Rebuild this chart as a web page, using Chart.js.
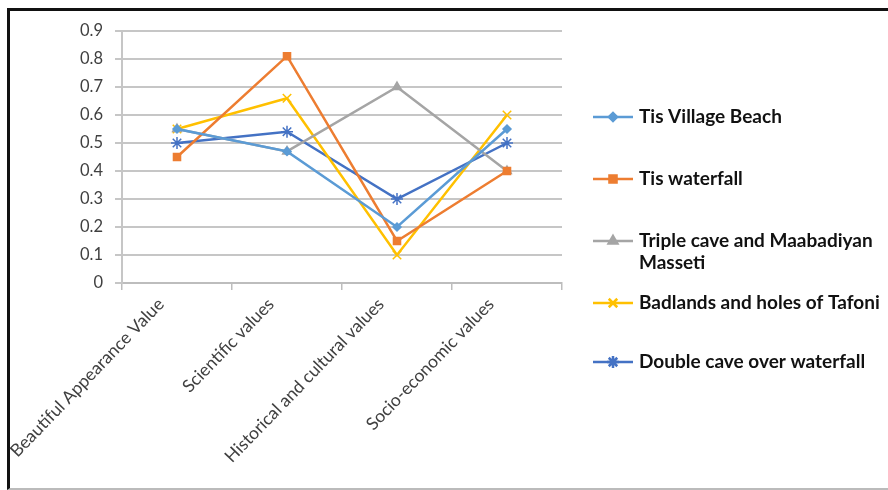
<!DOCTYPE html>
<html>
<head>
<meta charset="utf-8">
<script src="https://cdn.jsdelivr.net/npm/chart.js@4.4.1/dist/chart.umd.min.js"></script>
<style>
    html, body { margin: 0; padding: 0; background: #fff; }
    #wrap { position: relative; width: 888px; height: 490px; overflow: hidden; }
    #frame {
        position: absolute; left: 7px; top: 8px; width: 900px; height: 477px;
        border-left: 3px solid #111; border-top: 3px solid #111; border-bottom: 2px solid #bbb;
    }
    #chart { position: absolute; left: 0; top: 0; }
</style>
</head>
<body>
<div id="wrap">
    <div id="frame"></div>
    <canvas id="chart" width="888" height="490"></canvas>
</div>
<script>
const categories = ['Beautiful Appearance Value', 'Scientific values', 'Historical and cultural values', 'Socio-economic values'];
const seriesNames = ['Tis Village Beach', 'Tis waterfall', ['Triple cave and Maabadiyan', 'Masseti'], 'Badlands and holes of Tafoni', 'Double cave over waterfall'];
const tisVillageBeach = [0.55, 0.47, 0.2, 0.55];
const tisWaterfall = [0.45, 0.81, 0.15, 0.4];
const tripleCave = [0.55, 0.47, 0.7, 0.4];
const badlands = [0.55, 0.66, 0.1, 0.6];
const doubleCave = [0.5, 0.54, 0.3, 0.5];
const yTicks = [0, 0.1, 0.2, 0.3, 0.4, 0.5, 0.6, 0.7, 0.8, 0.9];

const colors = ['#5B9BD5', '#ED7D31', '#A5A5A5', '#FFC000', '#4472C4'];
const markers = ['rectRot', 'rect', 'triangle', 'crossRot', 'star'];
const radii = [4, 5, 5, 6, 6];
const values = [tisVillageBeach, tisWaterfall, tripleCave, badlands, doubleCave];

const FONT = 'Lato, "Open Sans", sans-serif';

// legend drawn on the canvas, to the right of the plot
const sideLegend = {
    id: 'sideLegend',
    afterDraw(chart) {
        const ctx = chart.ctx;
        const rows = [117, 179, 241, 303, 362];
        ctx.save();
        chart.data.datasets.forEach((ds, i) => {
            const y = rows[i];
            ctx.strokeStyle = ds.borderColor;
            ctx.fillStyle = ds.borderColor;
            ctx.lineWidth = 2.5;
            ctx.beginPath();
            ctx.moveTo(593, y);
            ctx.lineTo(633, y);
            ctx.stroke();
            Chart.helpers.drawPoint(ctx, {
                pointStyle: ds.pointStyle, radius: ds.pointRadius, borderWidth: 1.5, rotation: 0
            }, 613, y);
            ctx.fillStyle = '#111';
            ctx.font = 'bold 19px ' + FONT;
            ctx.textBaseline = 'middle';
            const lines = Array.isArray(ds.label) ? ds.label : [ds.label];
            lines.forEach((t, k) => ctx.fillText(t, 639, y + k * 22));
        });
        ctx.restore();
    },
};

const chart = new Chart(document.getElementById('chart'), {
    type: 'line',
    data: {
        labels: categories,
        datasets: values.map((v, i) => ({
            label: seriesNames[i],
            data: v,
            borderColor: colors[i],
            backgroundColor: colors[i],
            pointStyle: markers[i],
            pointRadius: radii[i],
            pointBorderWidth: 1.5,
            pointBackgroundColor: colors[i],
            pointBorderColor: colors[i],
            borderWidth: 2.5,
            tension: 0,
        })),
    },
    options: {
        responsive: false,
        animation: false,
        events: [],
        layout: { padding: { left: 0, top: 31, right: 326, bottom: 0 } },
        plugins: {
            legend: { display: false },
            tooltip: { enabled: false },
        },
        scales: {
            x: {
                offset: true,
                grid: {
                    offset: true,
                    drawOnChartArea: false,
                    drawTicks: true,
                    tickLength: 7,
                    color: '#bdbdbd',
                    lineWidth: 1.5,
                },
                border: { color: '#bdbdbd', width: 2 },
                ticks: {
                    minRotation: 46,
                    maxRotation: 46,
                    autoSkip: false,
                    padding: 4,
                    labelOffset: -16,
                    color: '#404040',
                    font: { family: FONT, size: 17.5 },
                },
                afterFit(scale) {
                    scale.height = 207;
                    scale.paddingLeft = 0;
                    scale.paddingRight = 0;
                },
            },
            y: {
                min: 0,
                max: 0.9,
                afterBuildTicks(scale) {
                    scale.ticks = yTicks.map(v => ({ value: v }));
                },
                grid: {
                    color: '#c6c6c6',
                    lineWidth: 2,
                    drawTicks: true,
                    tickLength: 7,
                },
                border: { color: '#c6c6c6', width: 2 },
                ticks: {
                    padding: 12,
                    color: '#404040',
                    font: { family: FONT, size: 16.5 },
                    callback: v => String(v),
                },
                afterFit(scale) {
                    scale.width = 122;
                    scale.paddingTop = 0;
                    scale.paddingBottom = 0;
                },
            },
        },
    },
    plugins: [sideLegend],
});
</script>
</body>
</html>
